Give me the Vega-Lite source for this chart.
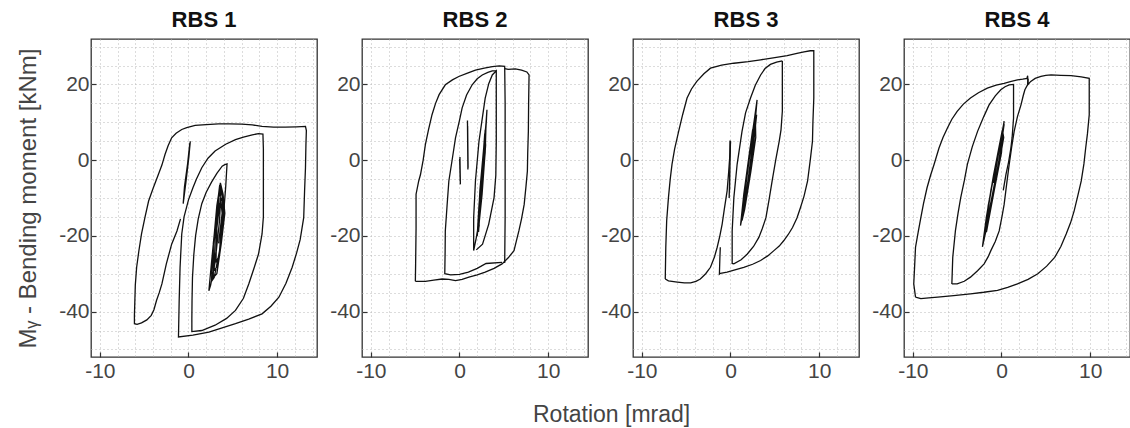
{
  "$schema": "https://vega.github.io/schema/vega-lite/v6.json",
  "background": "white",
  "padding": {"left": 15, "right": 0, "top": 7, "bottom": 0},
  "config": {
    "font": "Liberation Sans",
    "view": {"stroke": "#333333", "strokeWidth": 1.3},
    "axis": {
      "labelFont": "Liberation Sans", "labelFontSize": 21, "labelColor": "#444444",
      "titleFont": "Liberation Sans", "titleFontSize": 24, "titleFontWeight": "normal", "titleColor": "#444444",
      "grid": true, "gridColor": "#b8b8b8", "gridDash": [1, 3], "gridWidth": 1,
      "domain": false, "ticks": true, "tickSize": -5, "tickColor": "#333333", "tickWidth": 1.2,
      "labelOverlap": false, "labelFlush": false
    },
    "axisX": {"labelPadding": 8.5},
    "axisY": {"labelPadding": 7},
    "title": {"font": "Liberation Sans", "fontSize": 22, "fontWeight": "bold", "color": "#111111", "anchor": "middle", "offset": 4}
  },
  "title": {"text": "Rotation [mrad]", "orient": "bottom", "anchor": "start", "frame": "bounds", "dx": 517, "fontSize": 23, "fontWeight": "normal", "color": "#444444", "offset": 22},
  "bounds": "flush",
  "spacing": 45,
  "datasets": {
    "rbs1": [
      {"seg":1,"i":1,"rot":0,"mom":0},{"seg":1,"i":2,"rot":0.2,"mom":5},{"seg":1,"i":3,"rot":0.05,"mom":1},{"seg":1,"i":4,"rot":-0.25,"mom":-5},{"seg":1,"i":5,"rot":-0.6,"mom":-11.5},{"seg":1,"i":6,"rot":-0.45,"mom":-7},{"seg":1,"i":7,"rot":-0.1,"mom":-1},{"seg":1,"i":8,"rot":0.15,"mom":4.5},{"seg":1,"i":9,"rot":0.1,"mom":2.5},{"seg":1,"i":10,"rot":-0.2,"mom":-3},{"seg":1,"i":11,"rot":-0.55,"mom":-10},{"seg":1,"i":12,"rot":-0.3,"mom":-6},{"seg":1,"i":13,"rot":0,"mom":0},{"seg":1,"i":14,"rot":0.2,"mom":4.8},
      {"seg":2,"i":1,"rot":3.0,"mom":-20},{"seg":2,"i":2,"rot":3.5,"mom":-8},{"seg":2,"i":3,"rot":3.7,"mom":-7},{"seg":2,"i":4,"rot":3.5,"mom":-16},{"seg":2,"i":5,"rot":3.0,"mom":-27},{"seg":2,"i":6,"rot":2.5,"mom":-33},{"seg":2,"i":7,"rot":2.3,"mom":-34.5},{"seg":2,"i":8,"rot":2.6,"mom":-27},{"seg":2,"i":9,"rot":3.1,"mom":-15},{"seg":2,"i":10,"rot":3.5,"mom":-7},{"seg":2,"i":11,"rot":3.8,"mom":-8},{"seg":2,"i":12,"rot":3.9,"mom":-13},{"seg":2,"i":13,"rot":3.5,"mom":-24},{"seg":2,"i":14,"rot":2.9,"mom":-31},{"seg":2,"i":15,"rot":2.6,"mom":-32},{"seg":2,"i":16,"rot":2.7,"mom":-25},{"seg":2,"i":17,"rot":3.2,"mom":-12},{"seg":2,"i":18,"rot":3.6,"mom":-6},{"seg":2,"i":19,"rot":3.9,"mom":-9},{"seg":2,"i":20,"rot":4.1,"mom":-14},{"seg":2,"i":21,"rot":3.7,"mom":-22},{"seg":2,"i":22,"rot":3.2,"mom":-30},{"seg":2,"i":23,"rot":2.8,"mom":-31},{"seg":2,"i":24,"rot":2.8,"mom":-22},{"seg":2,"i":25,"rot":3.3,"mom":-11},{"seg":2,"i":26,"rot":3.7,"mom":-7.5},{"seg":2,"i":27,"rot":4.0,"mom":-12},{"seg":2,"i":28,"rot":3.8,"mom":-20},{"seg":2,"i":29,"rot":3.3,"mom":-28},{"seg":2,"i":30,"rot":2.9,"mom":-29},{"seg":2,"i":31,"rot":3.0,"mom":-21},{"seg":2,"i":32,"rot":3.4,"mom":-12},{"seg":2,"i":33,"rot":3.8,"mom":-10},{"seg":2,"i":34,"rot":3.9,"mom":-15},{"seg":2,"i":35,"rot":3.5,"mom":-25},{"seg":2,"i":36,"rot":3.1,"mom":-27},{"seg":2,"i":37,"rot":3.2,"mom":-18},{"seg":2,"i":38,"rot":3.6,"mom":-10},{"seg":2,"i":39,"rot":3.8,"mom":-14},{"seg":2,"i":40,"rot":3.4,"mom":-22},
      {"seg":3,"i":1,"rot":4.0,"mom":-13},{"seg":3,"i":2,"rot":4.2,"mom":-7},{"seg":3,"i":3,"rot":4.3,"mom":-3},{"seg":3,"i":4,"rot":4.35,"mom":-1.0},{"seg":3,"i":5,"rot":4.1,"mom":-1.2},{"seg":3,"i":6,"rot":3.8,"mom":-1.6},{"seg":3,"i":7,"rot":3.2,"mom":-3.5},{"seg":3,"i":8,"rot":2.6,"mom":-5.8},{"seg":3,"i":9,"rot":2.0,"mom":-8.5},{"seg":3,"i":10,"rot":1.5,"mom":-11.5},{"seg":3,"i":11,"rot":1.1,"mom":-15.5},{"seg":3,"i":12,"rot":0.8,"mom":-20},{"seg":3,"i":13,"rot":0.6,"mom":-25},{"seg":3,"i":14,"rot":0.45,"mom":-31},{"seg":3,"i":15,"rot":0.4,"mom":-37},{"seg":3,"i":16,"rot":0.38,"mom":-42},{"seg":3,"i":17,"rot":0.38,"mom":-45.3},{"seg":3,"i":18,"rot":1.5,"mom":-45.0},{"seg":3,"i":19,"rot":3.0,"mom":-43.6},{"seg":3,"i":20,"rot":4.3,"mom":-41.8},{"seg":3,"i":21,"rot":5.3,"mom":-39.7},{"seg":3,"i":22,"rot":6.2,"mom":-36.5},{"seg":3,"i":23,"rot":6.8,"mom":-32.7},{"seg":3,"i":24,"rot":7.4,"mom":-28.5},{"seg":3,"i":25,"rot":7.9,"mom":-24.8},{"seg":3,"i":26,"rot":8.3,"mom":-19.5},{"seg":3,"i":27,"rot":8.45,"mom":-15},{"seg":3,"i":28,"rot":8.45,"mom":-5},{"seg":3,"i":29,"rot":8.45,"mom":3},{"seg":3,"i":30,"rot":8.4,"mom":6.9},{"seg":3,"i":31,"rot":7.9,"mom":7.0},{"seg":3,"i":32,"rot":7.2,"mom":6.7},{"seg":3,"i":33,"rot":6.2,"mom":6.1},{"seg":3,"i":34,"rot":5.3,"mom":5.4},{"seg":3,"i":35,"rot":4.2,"mom":4.2},{"seg":3,"i":36,"rot":3.0,"mom":2.4},{"seg":3,"i":37,"rot":2.2,"mom":0.5},{"seg":3,"i":38,"rot":1.5,"mom":-2.0},{"seg":3,"i":39,"rot":0.9,"mom":-5},{"seg":3,"i":40,"rot":0.5,"mom":-7.3},{"seg":3,"i":41,"rot":0.0,"mom":-10.5},{"seg":3,"i":42,"rot":-0.5,"mom":-15},{"seg":3,"i":43,"rot":-0.76,"mom":-19.5},{"seg":3,"i":44,"rot":-0.95,"mom":-28.3},{"seg":3,"i":45,"rot":-1.05,"mom":-37},{"seg":3,"i":46,"rot":-1.13,"mom":-46.7},{"seg":3,"i":47,"rot":0.5,"mom":-46.2},{"seg":3,"i":48,"rot":2.3,"mom":-45.4},{"seg":3,"i":49,"rot":3.8,"mom":-44.3},{"seg":3,"i":50,"rot":5.3,"mom":-43.2},{"seg":3,"i":51,"rot":6.8,"mom":-42},{"seg":3,"i":52,"rot":8.3,"mom":-40.6},{"seg":3,"i":53,"rot":9.3,"mom":-38.6},{"seg":3,"i":54,"rot":10.2,"mom":-36.2},{"seg":3,"i":55,"rot":11.0,"mom":-32.5},{"seg":3,"i":56,"rot":11.7,"mom":-28.3},{"seg":3,"i":57,"rot":12.2,"mom":-24.5},{"seg":3,"i":58,"rot":12.6,"mom":-21},{"seg":3,"i":59,"rot":13.0,"mom":-15.2},{"seg":3,"i":60,"rot":13.1,"mom":-8},{"seg":3,"i":61,"rot":13.2,"mom":-2.0},{"seg":3,"i":62,"rot":13.25,"mom":4},{"seg":3,"i":63,"rot":13.3,"mom":7.8},{"seg":3,"i":64,"rot":13.2,"mom":8.9},{"seg":3,"i":65,"rot":12.2,"mom":8.8},{"seg":3,"i":66,"rot":10.9,"mom":8.7},{"seg":3,"i":67,"rot":9.6,"mom":8.7},{"seg":3,"i":68,"rot":8.3,"mom":8.9},{"seg":3,"i":69,"rot":7.2,"mom":9.3},{"seg":3,"i":70,"rot":6.0,"mom":9.5},{"seg":3,"i":71,"rot":4.6,"mom":9.6},{"seg":3,"i":72,"rot":3.4,"mom":9.6},{"seg":3,"i":73,"rot":2.0,"mom":9.4},{"seg":3,"i":74,"rot":0.75,"mom":9.2},{"seg":3,"i":75,"rot":-0.2,"mom":8.6},{"seg":3,"i":76,"rot":-0.76,"mom":8.1},{"seg":3,"i":77,"rot":-1.4,"mom":7.1},{"seg":3,"i":78,"rot":-1.9,"mom":5.9},{"seg":3,"i":79,"rot":-2.3,"mom":3.8},{"seg":3,"i":80,"rot":-2.65,"mom":1.5},{"seg":3,"i":81,"rot":-3.0,"mom":-1.3},{"seg":3,"i":82,"rot":-3.4,"mom":-3.8},{"seg":3,"i":83,"rot":-4.0,"mom":-7.5},{"seg":3,"i":84,"rot":-4.5,"mom":-10.8},{"seg":3,"i":85,"rot":-4.9,"mom":-15},{"seg":3,"i":86,"rot":-5.3,"mom":-19.5},{"seg":3,"i":87,"rot":-5.6,"mom":-24},{"seg":3,"i":88,"rot":-5.85,"mom":-28.3},{"seg":3,"i":89,"rot":-6.0,"mom":-33},{"seg":3,"i":90,"rot":-6.05,"mom":-37},{"seg":3,"i":91,"rot":-6.1,"mom":-41},{"seg":3,"i":92,"rot":-6.1,"mom":-43.2},{"seg":3,"i":93,"rot":-5.8,"mom":-43.4},{"seg":3,"i":94,"rot":-5.3,"mom":-43.0},{"seg":3,"i":95,"rot":-4.7,"mom":-42.2},{"seg":3,"i":96,"rot":-4.2,"mom":-41},{"seg":3,"i":97,"rot":-3.9,"mom":-39.5},{"seg":3,"i":98,"rot":-3.6,"mom":-37},{"seg":3,"i":99,"rot":-3.3,"mom":-35},{"seg":3,"i":100,"rot":-3.0,"mom":-32.7},{"seg":3,"i":101,"rot":-2.5,"mom":-27.4},{"seg":3,"i":102,"rot":-1.9,"mom":-22.2},{"seg":3,"i":103,"rot":-1.3,"mom":-18.7},{"seg":3,"i":104,"rot":-0.9,"mom":-15.5}
    ],
    "rbs2": [
      {"seg":1,"i":1,"rot":0.9,"mom":10.5},{"seg":1,"i":2,"rot":0.95,"mom":-2.5},{"seg":1,"i":3,"rot":0.9,"mom":10.0},{"seg":1,"i":4,"rot":0.97,"mom":-2.0},{"seg":1,"i":5,"rot":0.92,"mom":9},
      {"seg":2,"i":1,"rot":0.05,"mom":0.8},{"seg":2,"i":2,"rot":0.1,"mom":-6.4},{"seg":2,"i":3,"rot":0.02,"mom":0.3},{"seg":2,"i":4,"rot":0.08,"mom":-5.5},
      {"seg":3,"i":1,"rot":2.6,"mom":-3},{"seg":3,"i":2,"rot":3.1,"mom":13.3},{"seg":3,"i":3,"rot":2.9,"mom":5},{"seg":3,"i":4,"rot":2.4,"mom":-10},{"seg":3,"i":5,"rot":2.0,"mom":-20},{"seg":3,"i":6,"rot":2.2,"mom":-12},{"seg":3,"i":7,"rot":2.7,"mom":2},{"seg":3,"i":8,"rot":3.0,"mom":10},{"seg":3,"i":9,"rot":2.9,"mom":2},{"seg":3,"i":10,"rot":2.5,"mom":-8},{"seg":3,"i":11,"rot":2.1,"mom":-18},{"seg":3,"i":12,"rot":2.3,"mom":-8},{"seg":3,"i":13,"rot":2.8,"mom":5},{"seg":3,"i":14,"rot":3.05,"mom":11},{"seg":3,"i":15,"rot":2.7,"mom":-2},{"seg":3,"i":16,"rot":2.3,"mom":-14},{"seg":3,"i":17,"rot":2.15,"mom":-19},{"seg":3,"i":18,"rot":2.45,"mom":-6},{"seg":3,"i":19,"rot":2.85,"mom":7},{"seg":3,"i":20,"rot":2.95,"mom":4},{"seg":3,"i":21,"rot":2.55,"mom":-9},{"seg":3,"i":22,"rot":2.2,"mom":-17},{"seg":3,"i":23,"rot":2.35,"mom":-10},{"seg":3,"i":24,"rot":2.75,"mom":3},{"seg":3,"i":25,"rot":2.9,"mom":8},{"seg":3,"i":26,"rot":2.6,"mom":-4},{"seg":3,"i":27,"rot":2.3,"mom":-13},
      {"seg":4,"i":1,"rot":2.2,"mom":-17},{"seg":4,"i":2,"rot":1.6,"mom":-23.9},{"seg":4,"i":3,"rot":1.6,"mom":-15.2},{"seg":4,"i":4,"rot":1.8,"mom":-5.5},{"seg":4,"i":5,"rot":2.2,"mom":5},{"seg":4,"i":6,"rot":2.6,"mom":11.5},{"seg":4,"i":7,"rot":2.9,"mom":16.4},{"seg":4,"i":8,"rot":3.3,"mom":20.2},{"seg":4,"i":9,"rot":3.7,"mom":22.5},{"seg":4,"i":10,"rot":4.15,"mom":23.6},{"seg":4,"i":11,"rot":4.15,"mom":15},{"seg":4,"i":12,"rot":4.15,"mom":5},{"seg":4,"i":13,"rot":4.1,"mom":-4},{"seg":4,"i":14,"rot":3.9,"mom":-9.9},{"seg":4,"i":15,"rot":3.3,"mom":-16.9},{"seg":4,"i":16,"rot":2.6,"mom":-22.2},{"seg":4,"i":17,"rot":1.9,"mom":-23.7},
      {"seg":5,"i":1,"rot":4.8,"mom":-27.0},{"seg":5,"i":2,"rot":3.0,"mom":-27.3},{"seg":5,"i":3,"rot":2.0,"mom":-28.6},{"seg":5,"i":4,"rot":1.0,"mom":-29.6},{"seg":5,"i":5,"rot":0.0,"mom":-30.2},{"seg":5,"i":6,"rot":-1.0,"mom":-30.3},{"seg":5,"i":7,"rot":-1.66,"mom":-30.0},{"seg":5,"i":8,"rot":-1.62,"mom":-24},{"seg":5,"i":9,"rot":-1.6,"mom":-18.7},{"seg":5,"i":10,"rot":-1.4,"mom":-12},{"seg":5,"i":11,"rot":-1.2,"mom":-5.5},{"seg":5,"i":12,"rot":-0.8,"mom":0.5},{"seg":5,"i":13,"rot":-0.45,"mom":5.9},{"seg":5,"i":14,"rot":0.0,"mom":10.5},{"seg":5,"i":15,"rot":0.3,"mom":13.8},{"seg":5,"i":16,"rot":0.8,"mom":17.2},{"seg":5,"i":17,"rot":1.43,"mom":19.9},{"seg":5,"i":18,"rot":2.0,"mom":21.5},{"seg":5,"i":19,"rot":2.57,"mom":22.5},{"seg":5,"i":20,"rot":3.2,"mom":23.2},{"seg":5,"i":21,"rot":3.7,"mom":23.6},{"seg":5,"i":22,"rot":4.15,"mom":23.6},
      {"seg":6,"i":1,"rot":-4.98,"mom":-32.0},{"seg":6,"i":2,"rot":-4.95,"mom":-27.4},{"seg":6,"i":3,"rot":-4.9,"mom":-18},{"seg":6,"i":4,"rot":-4.9,"mom":-9.0},{"seg":6,"i":5,"rot":-4.6,"mom":-5.5},{"seg":6,"i":6,"rot":-4.4,"mom":-3.8},{"seg":6,"i":7,"rot":-4.1,"mom":0},{"seg":6,"i":8,"rot":-3.85,"mom":4.1},{"seg":6,"i":9,"rot":-3.5,"mom":8},{"seg":6,"i":10,"rot":-3.1,"mom":12.0},{"seg":6,"i":11,"rot":-2.7,"mom":15},{"seg":6,"i":12,"rot":-2.3,"mom":17.3},{"seg":6,"i":13,"rot":-1.6,"mom":19.9},{"seg":6,"i":14,"rot":-0.8,"mom":21.2},{"seg":6,"i":15,"rot":-0.08,"mom":22.1},{"seg":6,"i":16,"rot":0.9,"mom":23.0},{"seg":6,"i":17,"rot":1.8,"mom":23.8},{"seg":6,"i":18,"rot":2.8,"mom":24.3},{"seg":6,"i":19,"rot":3.7,"mom":24.7},{"seg":6,"i":20,"rot":4.5,"mom":24.9},{"seg":6,"i":21,"rot":5.1,"mom":24.8},{"seg":6,"i":22,"rot":5.15,"mom":15},{"seg":6,"i":23,"rot":5.15,"mom":0},{"seg":6,"i":24,"rot":5.15,"mom":-15},{"seg":6,"i":25,"rot":5.1,"mom":-27.2},
      {"seg":7,"i":1,"rot":5.1,"mom":24.2},{"seg":7,"i":2,"rot":5.5,"mom":24.0},{"seg":7,"i":3,"rot":6.3,"mom":24.1},{"seg":7,"i":4,"rot":7.0,"mom":23.8},{"seg":7,"i":5,"rot":7.6,"mom":23.3},{"seg":7,"i":6,"rot":7.85,"mom":22.5},{"seg":7,"i":7,"rot":7.8,"mom":15},{"seg":7,"i":8,"rot":7.77,"mom":7.6},{"seg":7,"i":9,"rot":7.7,"mom":2},{"seg":7,"i":10,"rot":7.66,"mom":-2.9},{"seg":7,"i":11,"rot":7.5,"mom":-7},{"seg":7,"i":12,"rot":7.3,"mom":-11.7},{"seg":7,"i":13,"rot":7.0,"mom":-15.5},{"seg":7,"i":14,"rot":6.7,"mom":-18.7},{"seg":7,"i":15,"rot":6.4,"mom":-21.5},{"seg":7,"i":16,"rot":6.15,"mom":-23.9},{"seg":7,"i":17,"rot":5.5,"mom":-25.8},{"seg":7,"i":18,"rot":4.8,"mom":-27.4},{"seg":7,"i":19,"rot":3.9,"mom":-28.6},{"seg":7,"i":20,"rot":2.9,"mom":-29.6},{"seg":7,"i":21,"rot":2.0,"mom":-30.3},{"seg":7,"i":22,"rot":1.06,"mom":-30.9},{"seg":7,"i":23,"rot":0.3,"mom":-31.5},{"seg":7,"i":24,"rot":-0.45,"mom":-31.8},{"seg":7,"i":25,"rot":-1.2,"mom":-31.5},{"seg":7,"i":26,"rot":-1.96,"mom":-31.4},{"seg":7,"i":27,"rot":-2.9,"mom":-31.7},{"seg":7,"i":28,"rot":-3.85,"mom":-32.0},{"seg":7,"i":29,"rot":-4.98,"mom":-32.0}
    ],
    "rbs3": [
      {"seg":1,"i":1,"rot":-0.05,"mom":5.2},{"seg":1,"i":2,"rot":-0.1,"mom":-8},{"seg":1,"i":3,"rot":-0.02,"mom":4.5},{"seg":1,"i":4,"rot":-0.15,"mom":-10},{"seg":1,"i":5,"rot":0.0,"mom":5.0},
      {"seg":2,"i":1,"rot":2.0,"mom":-1},{"seg":2,"i":2,"rot":3.0,"mom":15.9},{"seg":2,"i":3,"rot":2.7,"mom":8},{"seg":2,"i":4,"rot":2.0,"mom":-5},{"seg":2,"i":5,"rot":1.4,"mom":-14},{"seg":2,"i":6,"rot":1.13,"mom":-17.3},{"seg":2,"i":7,"rot":1.5,"mom":-9},{"seg":2,"i":8,"rot":2.2,"mom":3},{"seg":2,"i":9,"rot":2.8,"mom":12},{"seg":2,"i":10,"rot":2.85,"mom":6},{"seg":2,"i":11,"rot":2.3,"mom":-3},{"seg":2,"i":12,"rot":1.6,"mom":-13},{"seg":2,"i":13,"rot":1.3,"mom":-16},{"seg":2,"i":14,"rot":1.7,"mom":-6},{"seg":2,"i":15,"rot":2.4,"mom":6},{"seg":2,"i":16,"rot":2.9,"mom":14},{"seg":2,"i":17,"rot":2.6,"mom":4},{"seg":2,"i":18,"rot":1.9,"mom":-7},{"seg":2,"i":19,"rot":1.4,"mom":-15},{"seg":2,"i":20,"rot":1.55,"mom":-10},{"seg":2,"i":21,"rot":2.1,"mom":0},{"seg":2,"i":22,"rot":2.75,"mom":10},{"seg":2,"i":23,"rot":2.95,"mom":12},{"seg":2,"i":24,"rot":2.5,"mom":2},{"seg":2,"i":25,"rot":1.8,"mom":-9},{"seg":2,"i":26,"rot":1.35,"mom":-14},{"seg":2,"i":27,"rot":1.8,"mom":-4},{"seg":2,"i":28,"rot":2.5,"mom":8},{"seg":2,"i":29,"rot":2.8,"mom":9},{"seg":2,"i":30,"rot":2.2,"mom":-2},{"seg":2,"i":31,"rot":1.6,"mom":-11},
      {"seg":3,"i":1,"rot":5.85,"mom":26.2},{"seg":3,"i":2,"rot":5.85,"mom":20},{"seg":3,"i":3,"rot":5.85,"mom":12.9},{"seg":3,"i":4,"rot":5.7,"mom":8},{"seg":3,"i":5,"rot":5.5,"mom":5.0},{"seg":3,"i":6,"rot":5.1,"mom":0},{"seg":3,"i":7,"rot":4.7,"mom":-5.5},{"seg":3,"i":8,"rot":4.35,"mom":-10.5},{"seg":3,"i":9,"rot":4.0,"mom":-15.2},{"seg":3,"i":10,"rot":3.6,"mom":-18},{"seg":3,"i":11,"rot":3.2,"mom":-20.4},{"seg":3,"i":12,"rot":2.6,"mom":-22.8},{"seg":3,"i":13,"rot":1.9,"mom":-24.8},{"seg":3,"i":14,"rot":1.2,"mom":-26.3},{"seg":3,"i":15,"rot":0.38,"mom":-27.4},{"seg":3,"i":16,"rot":0.19,"mom":-27.3},{"seg":3,"i":17,"rot":0.19,"mom":-18.7},{"seg":3,"i":18,"rot":0.38,"mom":-9.9},{"seg":3,"i":19,"rot":0.75,"mom":-1.1},{"seg":3,"i":20,"rot":1.3,"mom":7.6},{"seg":3,"i":21,"rot":1.7,"mom":12.5},{"seg":3,"i":22,"rot":2.26,"mom":16.4},{"seg":3,"i":23,"rot":2.8,"mom":19.8},{"seg":3,"i":24,"rot":3.4,"mom":22.5},{"seg":3,"i":25,"rot":3.9,"mom":24.2},{"seg":3,"i":26,"rot":4.5,"mom":25.3},{"seg":3,"i":27,"rot":5.2,"mom":25.9},{"seg":3,"i":28,"rot":5.85,"mom":26.2},
      {"seg":4,"i":1,"rot":-7.36,"mom":-31.4},{"seg":4,"i":2,"rot":-7.3,"mom":-23},{"seg":4,"i":3,"rot":-7.2,"mom":-16},{"seg":4,"i":4,"rot":-7.0,"mom":-9.9},{"seg":4,"i":5,"rot":-6.8,"mom":-5},{"seg":4,"i":6,"rot":-6.6,"mom":-1.1},{"seg":4,"i":7,"rot":-6.3,"mom":3},{"seg":4,"i":8,"rot":-5.85,"mom":7.6},{"seg":4,"i":9,"rot":-5.4,"mom":12},{"seg":4,"i":10,"rot":-4.9,"mom":16.4},{"seg":4,"i":11,"rot":-4.4,"mom":18.8},{"seg":4,"i":12,"rot":-3.8,"mom":20.8},{"seg":4,"i":13,"rot":-3.0,"mom":22.8},{"seg":4,"i":14,"rot":-2.26,"mom":24.3},{"seg":4,"i":15,"rot":-1.0,"mom":25.1},{"seg":4,"i":16,"rot":0.38,"mom":25.6},{"seg":4,"i":17,"rot":2.0,"mom":26.0},{"seg":4,"i":18,"rot":3.4,"mom":26.5},{"seg":4,"i":19,"rot":5.0,"mom":27.1},{"seg":4,"i":20,"rot":6.4,"mom":27.6},{"seg":4,"i":21,"rot":7.5,"mom":28.2},{"seg":4,"i":22,"rot":8.3,"mom":28.6},{"seg":4,"i":23,"rot":9.0,"mom":28.9},{"seg":4,"i":24,"rot":9.4,"mom":28.9},{"seg":4,"i":25,"rot":9.4,"mom":22},{"seg":4,"i":26,"rot":9.4,"mom":16.4},{"seg":4,"i":27,"rot":9.3,"mom":10},{"seg":4,"i":28,"rot":9.25,"mom":5.0},{"seg":4,"i":29,"rot":9.0,"mom":0},{"seg":4,"i":30,"rot":8.7,"mom":-5.5},{"seg":4,"i":31,"rot":8.3,"mom":-9.5},{"seg":4,"i":32,"rot":7.9,"mom":-12.5},{"seg":4,"i":33,"rot":7.5,"mom":-15.3},{"seg":4,"i":34,"rot":7.0,"mom":-17.8},{"seg":4,"i":35,"rot":6.5,"mom":-19.7},{"seg":4,"i":36,"rot":6.0,"mom":-21.3},{"seg":4,"i":37,"rot":5.5,"mom":-22.7},{"seg":4,"i":38,"rot":4.9,"mom":-23.9},{"seg":4,"i":39,"rot":4.2,"mom":-25.3},{"seg":4,"i":40,"rot":3.4,"mom":-26.5},{"seg":4,"i":41,"rot":2.5,"mom":-27.5},{"seg":4,"i":42,"rot":1.5,"mom":-28.3},{"seg":4,"i":43,"rot":0.5,"mom":-29.0},{"seg":4,"i":44,"rot":-0.38,"mom":-29.6},{"seg":4,"i":45,"rot":-1.13,"mom":-29.9},{"seg":4,"i":46,"rot":-1.25,"mom":-30.1},{"seg":4,"i":47,"rot":-1.2,"mom":-26},{"seg":4,"i":48,"rot":-1.15,"mom":-23},
      {"seg":5,"i":1,"rot":-7.36,"mom":-31.4},{"seg":5,"i":2,"rot":-7.0,"mom":-31.9},{"seg":5,"i":3,"rot":-6.0,"mom":-32.2},{"seg":5,"i":4,"rot":-5.2,"mom":-32.4},{"seg":5,"i":5,"rot":-4.5,"mom":-32.4},{"seg":5,"i":6,"rot":-3.9,"mom":-32.0},{"seg":5,"i":7,"rot":-3.4,"mom":-31.4},{"seg":5,"i":8,"rot":-2.8,"mom":-30},{"seg":5,"i":9,"rot":-2.26,"mom":-28.3},{"seg":5,"i":10,"rot":-1.8,"mom":-25.5},{"seg":5,"i":11,"rot":-1.5,"mom":-23},{"seg":5,"i":12,"rot":-1.2,"mom":-20},{"seg":5,"i":13,"rot":-0.94,"mom":-16.9},{"seg":5,"i":14,"rot":-0.7,"mom":-13},{"seg":5,"i":15,"rot":-0.38,"mom":-8.1},{"seg":5,"i":16,"rot":-0.2,"mom":-3},{"seg":5,"i":17,"rot":-0.05,"mom":2},{"seg":5,"i":18,"rot":0.0,"mom":5.0}
    ],
    "rbs4": [
      {"seg":1,"i":1,"rot":-0.9,"mom":-6},{"seg":1,"i":2,"rot":0.3,"mom":10.3},{"seg":1,"i":3,"rot":0.0,"mom":4},{"seg":1,"i":4,"rot":-0.8,"mom":-7},{"seg":1,"i":5,"rot":-1.6,"mom":-17},{"seg":1,"i":6,"rot":-2.15,"mom":-22.9},{"seg":1,"i":7,"rot":-1.7,"mom":-15},{"seg":1,"i":8,"rot":-0.9,"mom":-4},{"seg":1,"i":9,"rot":0.1,"mom":8},{"seg":1,"i":10,"rot":0.25,"mom":6},{"seg":1,"i":11,"rot":-0.5,"mom":-4},{"seg":1,"i":12,"rot":-1.3,"mom":-14},{"seg":1,"i":13,"rot":-1.9,"mom":-20},{"seg":1,"i":14,"rot":-1.5,"mom":-12},{"seg":1,"i":15,"rot":-0.6,"mom":-1},{"seg":1,"i":16,"rot":0.2,"mom":9},{"seg":1,"i":17,"rot":0.0,"mom":2},{"seg":1,"i":18,"rot":-0.9,"mom":-9},{"seg":1,"i":19,"rot":-1.7,"mom":-19},{"seg":1,"i":20,"rot":-1.6,"mom":-14},{"seg":1,"i":21,"rot":-0.8,"mom":-3},{"seg":1,"i":22,"rot":0.15,"mom":7},{"seg":1,"i":23,"rot":-0.2,"mom":1},{"seg":1,"i":24,"rot":-1.1,"mom":-10},{"seg":1,"i":25,"rot":-1.8,"mom":-18},{"seg":1,"i":26,"rot":-1.2,"mom":-8},{"seg":1,"i":27,"rot":-0.3,"mom":3},{"seg":1,"i":28,"rot":0.3,"mom":9.5},{"seg":1,"i":29,"rot":-0.4,"mom":-2},{"seg":1,"i":30,"rot":-1.4,"mom":-15},
      {"seg":2,"i":1,"rot":-5.6,"mom":-32.7},{"seg":2,"i":2,"rot":-5.0,"mom":-32.7},{"seg":2,"i":3,"rot":-4.2,"mom":-32},{"seg":2,"i":4,"rot":-3.5,"mom":-30.9},{"seg":2,"i":5,"rot":-2.7,"mom":-29.2},{"seg":2,"i":6,"rot":-1.96,"mom":-27.4},{"seg":2,"i":7,"rot":-1.5,"mom":-25.5},{"seg":2,"i":8,"rot":-1.2,"mom":-23.9},{"seg":2,"i":9,"rot":-0.7,"mom":-21.5},{"seg":2,"i":10,"rot":-0.26,"mom":-18.7},{"seg":2,"i":11,"rot":0.05,"mom":-15},{"seg":2,"i":12,"rot":0.3,"mom":-11.7},{"seg":2,"i":13,"rot":0.6,"mom":-6},{"seg":2,"i":14,"rot":0.87,"mom":-1.1},{"seg":2,"i":15,"rot":1.15,"mom":3.5},{"seg":2,"i":16,"rot":1.43,"mom":7.6},{"seg":2,"i":17,"rot":1.8,"mom":11.5},{"seg":2,"i":18,"rot":2.2,"mom":14.6},{"seg":2,"i":19,"rot":2.45,"mom":17},{"seg":2,"i":20,"rot":2.64,"mom":18.6},{"seg":2,"i":21,"rot":2.94,"mom":19.9},{"seg":2,"i":22,"rot":3.0,"mom":21.5},
      {"seg":3,"i":1,"rot":-5.6,"mom":-32.7},{"seg":3,"i":2,"rot":-5.5,"mom":-25.7},{"seg":3,"i":3,"rot":-5.2,"mom":-18.7},{"seg":3,"i":4,"rot":-4.9,"mom":-14},{"seg":3,"i":5,"rot":-4.6,"mom":-9.9},{"seg":3,"i":6,"rot":-4.2,"mom":-5.5},{"seg":3,"i":7,"rot":-3.85,"mom":-1.1},{"seg":3,"i":8,"rot":-3.3,"mom":3.5},{"seg":3,"i":9,"rot":-2.7,"mom":7.6},{"seg":3,"i":10,"rot":-2.0,"mom":11.5},{"seg":3,"i":11,"rot":-1.4,"mom":14.6},{"seg":3,"i":12,"rot":-0.7,"mom":17},{"seg":3,"i":13,"rot":-0.08,"mom":18.6},{"seg":3,"i":14,"rot":0.4,"mom":19.4},{"seg":3,"i":15,"rot":0.87,"mom":19.9},{"seg":3,"i":16,"rot":1.36,"mom":20.0},{"seg":3,"i":17,"rot":1.36,"mom":15},{"seg":3,"i":18,"rot":1.36,"mom":11.1},{"seg":3,"i":19,"rot":1.2,"mom":6},{"seg":3,"i":20,"rot":1.06,"mom":3.2},{"seg":3,"i":21,"rot":0.8,"mom":-0.5},{"seg":3,"i":22,"rot":0.5,"mom":-3.8},{"seg":3,"i":23,"rot":0.2,"mom":-8},
      {"seg":4,"i":1,"rot":-9.7,"mom":-36.2},{"seg":4,"i":2,"rot":-9.9,"mom":-32.7},{"seg":4,"i":3,"rot":-9.8,"mom":-28},{"seg":4,"i":4,"rot":-9.7,"mom":-23},{"seg":4,"i":5,"rot":-9.4,"mom":-19},{"seg":4,"i":6,"rot":-9.1,"mom":-15.2},{"seg":4,"i":7,"rot":-8.8,"mom":-11.5},{"seg":4,"i":8,"rot":-8.4,"mom":-7.3},{"seg":4,"i":9,"rot":-8.0,"mom":-4},{"seg":4,"i":10,"rot":-7.6,"mom":-1.1},{"seg":4,"i":11,"rot":-7.05,"mom":3.2},{"seg":4,"i":12,"rot":-6.6,"mom":6},{"seg":4,"i":13,"rot":-6.1,"mom":8.5},{"seg":4,"i":14,"rot":-5.6,"mom":10.8},{"seg":4,"i":15,"rot":-5.0,"mom":12.9},{"seg":4,"i":16,"rot":-4.3,"mom":14.8},{"seg":4,"i":17,"rot":-3.5,"mom":16.4},{"seg":4,"i":18,"rot":-2.6,"mom":17.8},{"seg":4,"i":19,"rot":-1.6,"mom":19.0},{"seg":4,"i":20,"rot":-0.6,"mom":19.8},{"seg":4,"i":21,"rot":0.3,"mom":20.3},{"seg":4,"i":22,"rot":1.1,"mom":20.8},{"seg":4,"i":23,"rot":1.8,"mom":21.2},{"seg":4,"i":24,"rot":2.4,"mom":21.4},{"seg":4,"i":25,"rot":2.87,"mom":21.6},{"seg":4,"i":26,"rot":2.95,"mom":22.3},{"seg":4,"i":27,"rot":3.0,"mom":20.0},{"seg":4,"i":28,"rot":3.3,"mom":20.8},{"seg":4,"i":29,"rot":3.8,"mom":21.6},{"seg":4,"i":30,"rot":4.45,"mom":22.1},{"seg":4,"i":31,"rot":5.0,"mom":22.4},{"seg":4,"i":32,"rot":5.6,"mom":22.5},{"seg":4,"i":33,"rot":6.7,"mom":22.4},{"seg":4,"i":34,"rot":7.85,"mom":22.3},{"seg":4,"i":35,"rot":9.0,"mom":22.0},{"seg":4,"i":36,"rot":9.9,"mom":21.6},{"seg":4,"i":37,"rot":9.9,"mom":17},{"seg":4,"i":38,"rot":9.9,"mom":12},{"seg":4,"i":39,"rot":9.7,"mom":7},{"seg":4,"i":40,"rot":9.5,"mom":3.2},{"seg":4,"i":41,"rot":9.3,"mom":-1},{"seg":4,"i":42,"rot":9.0,"mom":-5.5},{"seg":4,"i":43,"rot":8.6,"mom":-9.5},{"seg":4,"i":44,"rot":8.2,"mom":-13.4},{"seg":4,"i":45,"rot":7.8,"mom":-16.5},{"seg":4,"i":46,"rot":7.3,"mom":-19.5},{"seg":4,"i":47,"rot":6.7,"mom":-22.8},{"seg":4,"i":48,"rot":6.0,"mom":-25.7},{"seg":4,"i":49,"rot":5.1,"mom":-28},{"seg":4,"i":50,"rot":4.1,"mom":-30},{"seg":4,"i":51,"rot":3.0,"mom":-31.5},{"seg":4,"i":52,"rot":1.8,"mom":-32.7},{"seg":4,"i":53,"rot":0.7,"mom":-33.6},{"seg":4,"i":54,"rot":-0.45,"mom":-34.4},{"seg":4,"i":55,"rot":-2.0,"mom":-34.9},{"seg":4,"i":56,"rot":-3.5,"mom":-35.3},{"seg":4,"i":57,"rot":-5.4,"mom":-35.8},{"seg":4,"i":58,"rot":-7.2,"mom":-36.2},{"seg":4,"i":59,"rot":-8.2,"mom":-36.4},{"seg":4,"i":60,"rot":-9.1,"mom":-36.6},{"seg":4,"i":61,"rot":-9.7,"mom":-36.2}
    ]
  },
  "hconcat": [
    {
      "width": 226, "height": 318,
      "title": {"text": "RBS 1"},
      "data": {"name": "rbs1"},
      "mark": {"type": "line", "color": "#111111", "strokeWidth": 1.3},
      "encoding": {
        "x": {"field": "rot", "type": "quantitative", "scale": {"domain": [-11, 14.5], "nice": false, "zero": false},
          "axis": {"title": null, "values": [-10,-8,-6,-4,-2,0,2,4,6,8,10,12,14], "labelExpr": "datum.value % 10 === 0 ? '' + datum.value : ''", "tickOpacity": {"condition": {"test": "datum.value % 10 === 0", "value": 1}, "value": 0}}},
        "y": {"field": "mom", "type": "quantitative", "scale": {"domain": [-52, 32], "nice": false, "zero": false},
          "axis": {"title": "Mᵧ - Bending moment [kNm]", "titlePadding": 18, "values": [-50,-45,-40,-35,-30,-25,-20,-15,-10,-5,0,5,10,15,20,25,30], "labelExpr": "datum.value % 20 === 0 ? '' + datum.value : ''", "tickOpacity": {"condition": {"test": "datum.value % 20 === 0", "value": 1}, "value": 0}}},
        "detail": {"field": "seg", "type": "nominal"},
        "order": {"field": "i", "type": "quantitative"}
      }
    },
    {
      "width": 226, "height": 318,
      "title": {"text": "RBS 2"},
      "data": {"name": "rbs2"},
      "mark": {"type": "line", "color": "#111111", "strokeWidth": 1.3},
      "encoding": {
        "x": {"field": "rot", "type": "quantitative", "scale": {"domain": [-11, 14.5], "nice": false, "zero": false},
          "axis": {"title": null, "values": [-10,-8,-6,-4,-2,0,2,4,6,8,10,12,14], "labelExpr": "datum.value % 10 === 0 ? '' + datum.value : ''", "tickOpacity": {"condition": {"test": "datum.value % 10 === 0", "value": 1}, "value": 0}}},
        "y": {"field": "mom", "type": "quantitative", "scale": {"domain": [-52, 32], "nice": false, "zero": false},
          "axis": {"title": null, "values": [-50,-45,-40,-35,-30,-25,-20,-15,-10,-5,0,5,10,15,20,25,30], "labelExpr": "datum.value % 20 === 0 ? '' + datum.value : ''", "tickOpacity": {"condition": {"test": "datum.value % 20 === 0", "value": 1}, "value": 0}}},
        "detail": {"field": "seg", "type": "nominal"},
        "order": {"field": "i", "type": "quantitative"}
      }
    },
    {
      "width": 226, "height": 318,
      "title": {"text": "RBS 3"},
      "data": {"name": "rbs3"},
      "mark": {"type": "line", "color": "#111111", "strokeWidth": 1.3},
      "encoding": {
        "x": {"field": "rot", "type": "quantitative", "scale": {"domain": [-11, 14.5], "nice": false, "zero": false},
          "axis": {"title": null, "values": [-10,-8,-6,-4,-2,0,2,4,6,8,10,12,14], "labelExpr": "datum.value % 10 === 0 ? '' + datum.value : ''", "tickOpacity": {"condition": {"test": "datum.value % 10 === 0", "value": 1}, "value": 0}}},
        "y": {"field": "mom", "type": "quantitative", "scale": {"domain": [-52, 32], "nice": false, "zero": false},
          "axis": {"title": null, "values": [-50,-45,-40,-35,-30,-25,-20,-15,-10,-5,0,5,10,15,20,25,30], "labelExpr": "datum.value % 20 === 0 ? '' + datum.value : ''", "tickOpacity": {"condition": {"test": "datum.value % 20 === 0", "value": 1}, "value": 0}}},
        "detail": {"field": "seg", "type": "nominal"},
        "order": {"field": "i", "type": "quantitative"}
      }
    },
    {
      "width": 226, "height": 318,
      "title": {"text": "RBS 4"},
      "data": {"name": "rbs4"},
      "mark": {"type": "line", "color": "#111111", "strokeWidth": 1.3},
      "encoding": {
        "x": {"field": "rot", "type": "quantitative", "scale": {"domain": [-11, 14.5], "nice": false, "zero": false},
          "axis": {"title": null, "values": [-10,-8,-6,-4,-2,0,2,4,6,8,10,12,14], "labelExpr": "datum.value % 10 === 0 ? '' + datum.value : ''", "tickOpacity": {"condition": {"test": "datum.value % 10 === 0", "value": 1}, "value": 0}}},
        "y": {"field": "mom", "type": "quantitative", "scale": {"domain": [-52, 32], "nice": false, "zero": false},
          "axis": {"title": null, "values": [-50,-45,-40,-35,-30,-25,-20,-15,-10,-5,0,5,10,15,20,25,30], "labelExpr": "datum.value % 20 === 0 ? '' + datum.value : ''", "tickOpacity": {"condition": {"test": "datum.value % 20 === 0", "value": 1}, "value": 0}}},
        "detail": {"field": "seg", "type": "nominal"},
        "order": {"field": "i", "type": "quantitative"}
      }
    }
  ]
}
